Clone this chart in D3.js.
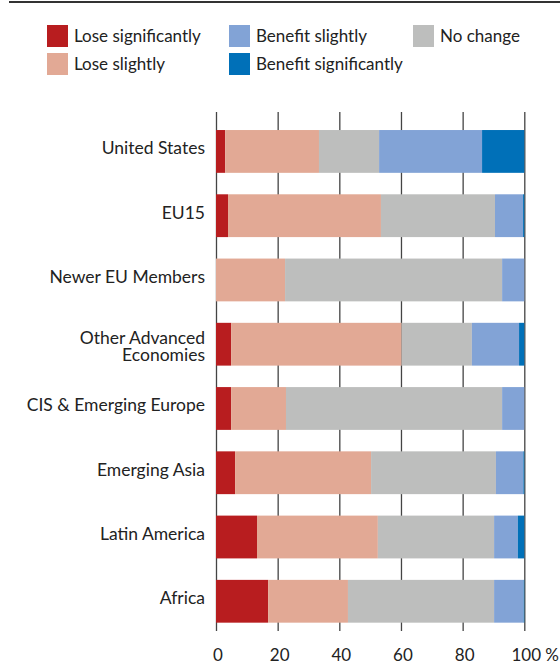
<!DOCTYPE html>
<html lang="en">
<head>
<meta charset="UTF-8">
<script src="https://cdn.jsdelivr.net/npm/d3@7"></script>
<style>
  body { margin: 0; background: #fff; }
  svg { display: block; font-family: Lato, "Noto Sans", sans-serif; }
</style>
</head>
<body>
<div id="chart"></div>
<script>
    // Data
    const regions = ["United States", "EU15", "Newer EU Members", "Other Advanced Economies",
        "CIS & Emerging Europe", "Emerging Asia", "Latin America", "Africa"];
    const loseSignificantly = [3.0, 3.9, 0, 4.9, 4.9, 6.2, 13.3, 16.9];
    const loseSlightly = [30.4, 49.6, 22.4, 55.3, 17.8, 44.1, 39.2, 25.9];
    const noChange = [19.5, 37.0, 70.4, 22.8, 70.1, 40.5, 37.7, 47.4];
    const benefitSlightly = [33.4, 9.1, 7.2, 15.3, 7.2, 8.9, 7.7, 9.6];
    const benefitSignificantly = [13.7, 0.4, 0, 1.7, 0, 0.3, 2.1, 0.2];
    const xTicks = [0, 20, 40, 60, 80, 100];

    const seriesNames = ["Lose significantly", "Lose slightly", "No change", "Benefit slightly", "Benefit significantly"];
    const seriesValues = [loseSignificantly, loseSlightly, noChange, benefitSlightly, benefitSignificantly];
    const colors = ["#b81d1f", "#e2a995", "#bdbebd", "#82a3d6", "#0070b8"];

    //Variable
    const width = 560;
    const height = 664;
    const left = 216, right = 524.3;
    const plotTop = 112, plotBottom = 631;

    const table = regions.map((r, i) => {
        const row = { region: r };
        seriesNames.forEach((s, j) => row[s] = seriesValues[j][i]);
        return row;
    });
    const stacked = d3.stack().keys(seriesNames)(table);

    const x = d3.scaleLinear().domain([0, 100]).range([left, right]);
    const y = d3.scaleBand().domain(regions).range([119.3, 633.4]).paddingInner(0.334).paddingOuter(0.167);
    const color = d3.scaleOrdinal().domain(seriesNames).range(colors);

    const svg = d3.select('#chart').append('svg')
        .attr('width', width)
        .attr('height', height);

    //-Top rule
    svg.append('line')
        .attr('x1', 9).attr('x2', width)
        .attr('y1', 2).attr('y2', 2)
        .attr('stroke', '#333').attr('stroke-width', 2);

    //-Legend
    const legendItems = [
        { name: "Lose significantly", col: 0, row: 0 },
        { name: "Lose slightly", col: 0, row: 1 },
        { name: "Benefit slightly", col: 1, row: 0 },
        { name: "Benefit significantly", col: 1, row: 1 },
        { name: "No change", col: 2, row: 0 }
    ];
    const colX = [47, 229, 413];
    const legend = svg.append('g').selectAll('g')
        .data(legendItems)
        .enter().append('g')
        .attr('transform', d => `translate(${colX[d.col]},${25 + d.row * 28})`);
    legend.append('rect')
        .attr('width', 21).attr('height', 22)
        .attr('fill', d => color(d.name));
    legend.append('text')
        .attr('x', 27).attr('y', 11)
        .attr('dy', '0.35em')
        .attr('font-size', 17)
        .attr('fill', '#222')
        .text(d => d.name);

    //-Grid + x axis
    const xAxis = d3.axisBottom(x)
        .tickValues(xTicks)
        .tickSize(-(plotBottom - plotTop))
        .tickPadding(18)
        .tickFormat(d => d);
    const gx = svg.append('g')
        .attr('transform', `translate(0,${plotBottom})`)
        .call(xAxis);
    gx.select('.domain').remove();
    gx.selectAll('.tick line').attr('stroke', '#444').attr('stroke-width', 1.3);
    gx.selectAll('.tick text')
        .attr('x', 1.5)
        .attr('font-size', 17)
        .attr('font-family', 'Lato, "Noto Sans", sans-serif')
        .attr('fill', '#222');
    svg.append('text')
        .attr('x', x(100) + 21)
        .attr('y', plotBottom + 18)
        .attr('dy', '0.71em')
        .attr('font-size', 17)
        .attr('fill', '#222')
        .text('%');

    //-Bars
    svg.append('g').selectAll('g')
        .data(stacked)
        .enter().append('g')
        .attr('fill', d => color(d.key))
        .selectAll('rect')
        .data(d => d)
        .enter().append('rect')
        .attr('x', d => x(d[0]))
        .attr('y', d => y(d.data.region))
        .attr('width', d => x(d[1]) - x(d[0]))
        .attr('height', y.bandwidth());

    //-Category labels
    const labels = svg.append('g').selectAll('text')
        .data(regions)
        .enter().append('text')
        .attr('x', left - 11)
        .attr('y', d => y(d) + y.bandwidth() / 2 + 3)
        .attr('text-anchor', 'end')
        .attr('font-size', 17.5)
        .attr('fill', '#222');
    labels.each(function (d) {
        const t = d3.select(this);
        if (d === "Other Advanced Economies") {
            t.append('tspan').attr('x', left - 11).attr('dy', -3).text("Other Advanced");
            t.append('tspan').attr('x', left - 11).attr('dy', 16.7).text("Economies");
        } else {
            t.text(d);
        }
    });
</script>
</body>
</html>
